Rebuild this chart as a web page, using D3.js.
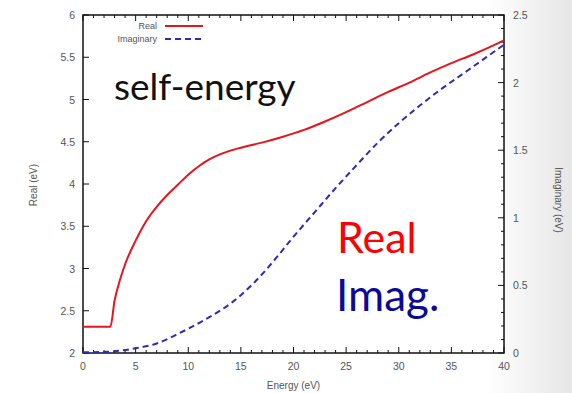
<!DOCTYPE html>
<html>
<head>
<meta charset="utf-8">
<script src="https://cdn.jsdelivr.net/npm/d3@7"></script>
<style>
  html, body { margin: 0; padding: 0; }
  body { width: 572px; height: 393px; overflow: hidden; background: #fff; }
</style>
</head>
<body>
<div id="chart"></div>
<script>
// energy grid (eV) and series
const realE = [0, 2.6, 3, 3.5, 4, 5, 6, 7, 8, 9, 10, 11, 12, 13, 14, 15, 17, 19, 21, 23, 25, 27, 29, 31, 33, 35, 37, 39, 40];
const realV = [2.31, 2.31, 2.62, 2.86, 3.05, 3.33, 3.56, 3.73, 3.87, 3.99, 4.11, 4.21, 4.29, 4.35, 4.395, 4.43, 4.49, 4.56, 4.64, 4.74, 4.85, 4.97, 5.09, 5.20, 5.32, 5.43, 5.53, 5.64, 5.70];

const imagE = [0, 2.5, 5, 7, 9, 10, 12, 14, 16, 18, 20, 22, 24, 26, 28, 30, 32, 34, 36, 38, 40];
const imagV = [0.005, 0.01, 0.035, 0.07, 0.14, 0.18, 0.265, 0.365, 0.50, 0.67, 0.86, 1.04, 1.22, 1.39, 1.555, 1.70, 1.83, 1.95, 2.06, 2.17, 2.28];

const xTicks = [0, 5, 10, 15, 20, 25, 30, 35, 40];
const yTicks = [2, 2.5, 3, 3.5, 4, 4.5, 5, 5.5, 6];
const y2Ticks = [0, 0.5, 1, 1.5, 2, 2.5];

const W = 572, H = 393;
const pL = 83, pR = 504, pT = 15, pB = 353;

const svg = d3.select('#chart').append('svg')
  .attr('width', W).attr('height', H);

// slide background fading to grey on the right
const defs = svg.append('defs');
const grad = defs.append('linearGradient').attr('id', 'bg')
  .attr('x1', 0).attr('x2', 1).attr('y1', 0).attr('y2', 0);
grad.append('stop').attr('offset', '0.85').attr('stop-color', '#ffffff');
grad.append('stop').attr('offset', '1').attr('stop-color', '#e6e6e6');
svg.append('rect').attr('width', W).attr('height', H).attr('fill', 'url(#bg)');

const x = d3.scaleLinear().domain([0, 40]).range([pL, pR]);
const y = d3.scaleLinear().domain([2, 6]).range([pB, pT]);
const y2 = d3.scaleLinear().domain([0, 2.5]).range([pB, pT]);

const tickColor = '#111';
const labelColor = '#555';
const tickFont = 'Arial, "Liberation Sans", sans-serif';

// frame
svg.append('rect')
  .attr('x', pL).attr('y', pT)
  .attr('width', pR - pL).attr('height', pB - pT)
  .attr('fill', '#fff').attr('stroke', tickColor).attr('stroke-width', 1.5);

const ticks = svg.append('g').attr('stroke', tickColor).attr('stroke-width', 1);

// x ticks, bottom and mirrored on top
d3.range(0, 41, 1).forEach(v => {
  const major = v % 5 === 0;
  const len = major ? 6 : 3;
  ticks.append('line').attr('x1', x(v)).attr('x2', x(v)).attr('y1', pB).attr('y2', pB - len);
  ticks.append('line').attr('x1', x(v)).attr('x2', x(v)).attr('y1', pT).attr('y2', pT + len);
});

// left ticks
yTicks.forEach(v => {
  ticks.append('line').attr('x1', pL).attr('x2', pL + 6).attr('y1', y(v)).attr('y2', y(v));
});

// right ticks with minor
d3.range(0, 26, 1).forEach(i => {
  const v = i / 10;
  const len = i % 5 === 0 ? 6 : 3;
  ticks.append('line').attr('x1', pR).attr('x2', pR - len).attr('y1', y2(v)).attr('y2', y2(v));
});

const fmt = d => String(d);

svg.append('g').selectAll('text').data(xTicks).join('text')
  .attr('x', d => x(d)).attr('y', pB + 17)
  .attr('text-anchor', 'middle')
  .attr('font-family', tickFont).attr('font-size', 10.5).attr('fill', labelColor)
  .text(fmt);

svg.append('g').selectAll('text').data(yTicks).join('text')
  .attr('x', pL - 8).attr('y', d => y(d) + 4)
  .attr('text-anchor', 'end')
  .attr('font-family', tickFont).attr('font-size', 10.5).attr('fill', labelColor)
  .text(fmt);

svg.append('g').selectAll('text').data(y2Ticks).join('text')
  .attr('x', pR + 9).attr('y', d => y2(d) + 4)
  .attr('text-anchor', 'start')
  .attr('font-family', tickFont).attr('font-size', 10.5).attr('fill', labelColor)
  .text(fmt);

// axis titles
svg.append('text')
  .attr('x', (pL + pR) / 2).attr('y', 389)
  .attr('text-anchor', 'middle')
  .attr('font-family', tickFont).attr('font-size', 10).attr('fill', labelColor)
  .text('Energy (eV)');

svg.append('text')
  .attr('transform', 'translate(37,185) rotate(-90)')
  .attr('text-anchor', 'middle')
  .attr('font-family', tickFont).attr('font-size', 10).attr('fill', labelColor)
  .text('Real (eV)');

svg.append('text')
  .attr('transform', 'translate(555,200) rotate(90)')
  .attr('text-anchor', 'middle')
  .attr('font-family', tickFont).attr('font-size', 10).attr('fill', labelColor)
  .text('Imaginary (eV)');

// curves
const realLine = d3.line()
  .x((d, i) => x(realE[i]))
  .y(d => y(d))
  .curve(d3.curveMonotoneX);

const imagLine = d3.line()
  .x((d, i) => x(imagE[i]))
  .y(d => y2(d))
  .curve(d3.curveMonotoneX);

svg.append('path')
  .attr('d', imagLine(imagV))
  .attr('fill', 'none').attr('stroke', '#2b2bb8')
  .attr('stroke-width', 2).attr('stroke-dasharray', '6,4');

svg.append('path')
  .attr('d', realLine(realV))
  .attr('fill', 'none').attr('stroke', '#e8141c')
  .attr('stroke-width', 2);

// legend
const legend = svg.append('g').attr('font-family', tickFont).attr('font-size', 9).attr('fill', labelColor);
legend.append('text').attr('x', 157).attr('y', 29).attr('text-anchor', 'end').text('Real');
legend.append('text').attr('x', 157).attr('y', 42).attr('text-anchor', 'end').text('Imaginary');
svg.append('line').attr('x1', 165).attr('x2', 203).attr('y1', 26).attr('y2', 26)
  .attr('stroke', '#e8141c').attr('stroke-width', 2);
svg.append('line').attr('x1', 165).attr('x2', 203).attr('y1', 39).attr('y2', 39)
  .attr('stroke', '#2b2bb8').attr('stroke-width', 2).attr('stroke-dasharray', '6,4');

// slide annotations
svg.append('text')
  .attr('x', 114).attr('y', 100)
  .attr('font-family', 'Lato, "Open Sans", sans-serif').attr('font-size', 37)
  .attr('fill', '#111')
  .text('self-energy');

svg.append('text')
  .attr('x', 337).attr('y', 253)
  .attr('font-family', 'Lato, "Open Sans", sans-serif').attr('font-size', 43)
  .attr('fill', '#ff0000')
  .text('Real');

svg.append('text')
  .attr('x', 336).attr('y', 311)
  .attr('font-family', 'Lato, "Open Sans", sans-serif').attr('font-size', 44)
  .attr('fill', '#0a0a96')
  .text('Imag.');
</script>
</body>
</html>
